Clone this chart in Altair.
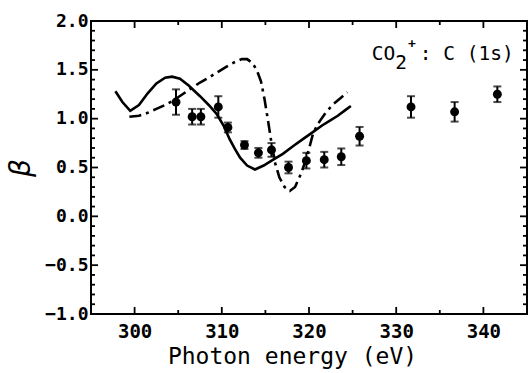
import altair as alt
import pandas as pd

# Experimental points
pt_E = [304.75, 306.6, 307.6, 309.6, 310.7, 312.6, 314.2, 315.7, 317.65, 319.7, 321.75, 323.7, 325.8, 331.7, 336.7, 341.6]
pt_b = [1.17, 1.02, 1.02, 1.12, 0.91, 0.73, 0.65, 0.68, 0.50, 0.57, 0.58, 0.61, 0.82, 1.12, 1.07, 1.25]
pt_err = [0.13, 0.08, 0.08, 0.11, 0.05, 0.04, 0.05, 0.07, 0.06, 0.08, 0.08, 0.085, 0.095, 0.11, 0.10, 0.08]

# Solid theory curve
sol_E = [297.8, 298.6, 299.5, 300.5, 301.5, 302.5, 303.5, 304.3, 305.2, 306.2, 307.5, 308.5, 309.4, 310.2,
         310.9, 311.5, 312.1, 312.9, 313.8, 314.8, 315.9, 317.0, 318.2, 319.3, 320.4, 321.5, 322.4, 323.3, 324.2, 324.8]
sol_b = [1.28, 1.17, 1.08, 1.14, 1.26, 1.36, 1.42, 1.43, 1.41, 1.34, 1.23, 1.14, 1.05, 0.93,
         0.79, 0.69, 0.60, 0.52, 0.48, 0.52, 0.58, 0.64, 0.72, 0.79, 0.86, 0.93, 0.98, 1.03, 1.09, 1.13]

# Dash-dot theory curve
dd_E = [299.4, 300.5, 301.5, 302.5, 303.5, 304.5, 305.5, 306.5, 307.5, 308.5, 309.4, 310.5, 311.5, 312.3,
        312.9, 313.5, 314.0, 314.5, 314.9, 315.3, 315.7, 316.1, 316.6, 317.2, 317.8, 318.4, 319.1, 319.6,
        320.0, 320.5, 321.2, 321.9, 322.8, 323.6, 324.4]
dd_b = [1.02, 1.03, 1.06, 1.10, 1.14, 1.19, 1.25, 1.31, 1.37, 1.42, 1.47, 1.53, 1.58, 1.61,
        1.61, 1.57, 1.50, 1.38, 1.20, 0.98, 0.75, 0.55, 0.40, 0.30, 0.26, 0.30, 0.44, 0.57,
        0.69, 0.86, 0.97, 1.06, 1.15, 1.21, 1.27]

x_major = [300, 310, 320, 330, 340]
x_minor = [305, 315, 325, 335]
y_major = [-1.0, -0.5, 0.0, 0.5, 1.0, 1.5, 2.0]
y_minor = [round(-1.0 + 0.1 * i, 1) for i in range(31) if i % 5 != 0]

# Annotation "CO2+ : C (1s)" split into pieces (main, subscript, superscript, rest)
lab_parts = ["CO", "2", "+", ": C (1s)"]
lab_E = 327.2
lab_b = 1.60

W, H = 436, 293
X0, X1 = 295.0, 345.0
Y0, Y1 = -1.0, 2.0
FONT = "DejaVu Sans Mono"

xs = alt.Scale(domain=[X0, X1], nice=False, zero=False)
ys = alt.Scale(domain=[Y0, Y1], nice=False, zero=False)

pts = pd.DataFrame({"E": pt_E, "b": pt_b, "lo": [b - e for b, e in zip(pt_b, pt_err)],
                    "hi": [b + e for b, e in zip(pt_b, pt_err)]})
sol = pd.DataFrame({"E": sol_E, "b": sol_b})
dd = pd.DataFrame({"E": dd_E, "b": dd_b})

ax_x = alt.Axis(values=x_major, ticks=False, domain=False, grid=False, labelFont=FONT,
                labelFontSize=19, labelFontWeight="bold", labelColor="black", labelPadding=8,
                titleFont=FONT, titleFontSize=23, titleFontWeight="normal", titleColor="black",
                titlePadding=4, titleX=201, titleAlign="center", labelFlush=False)
ax_y = alt.Axis(values=y_major, format=".1f", ticks=False, domain=False, grid=False,
                labelFont=FONT, labelFontSize=18, labelFontWeight="bold", labelColor="black",
                labelPadding=3, titleFont="DejaVu Sans", titleFontSize=28,
                titleFontStyle="italic", titleFontWeight="normal", titleColor="black",
                titlePadding=9, labelFlush=False)

solid = alt.Chart(sol).mark_line(color="black", strokeWidth=2.6).encode(
    x=alt.X("E:Q", scale=xs, title="Photon energy  (eV)", axis=ax_x),
    y=alt.Y("b:Q", scale=ys, title="β", axis=ax_y))
dashdot = alt.Chart(dd).mark_line(color="black", strokeWidth=2.6, strokeDash=[12, 5, 3, 5]).encode(
    x=alt.X("E:Q", scale=xs), y=alt.Y("b:Q", scale=ys))
bars = alt.Chart(pts).mark_rule(color="black", strokeWidth=2).encode(
    x=alt.X("E:Q", scale=xs), y=alt.Y("lo:Q", scale=ys), y2="hi:Q")
caps_lo = alt.Chart(pts).mark_tick(color="black", thickness=2, size=8, orient="horizontal").encode(
    x=alt.X("E:Q", scale=xs), y=alt.Y("lo:Q", scale=ys))
caps_hi = alt.Chart(pts).mark_tick(color="black", thickness=2, size=8, orient="horizontal").encode(
    x=alt.X("E:Q", scale=xs), y=alt.Y("hi:Q", scale=ys))
dots = alt.Chart(pts).mark_point(shape="circle", filled=True, color="black", opacity=1, size=80).encode(
    x=alt.X("E:Q", scale=xs), y=alt.Y("b:Q", scale=ys))

FS = 19.5
CW = 0.602 * FS
lab_df = pd.DataFrame({"E": [lab_E], "b": [lab_b]})


def lab_piece(i, size, dx, dy, weight="normal"):
    return alt.Chart(lab_df).mark_text(
        font=FONT, fontSize=size, fontWeight=weight, align="left", baseline="alphabetic",
        color="black", dx=dx, dy=dy, text=lab_parts[i]).encode(
        x=alt.X("E:Q", scale=xs), y=alt.Y("b:Q", scale=ys))


labs = [lab_piece(0, FS, 0, 0), lab_piece(1, FS, 2 * CW, 9), lab_piece(2, 13, 3 * CW + 1, -12, "bold"),
        lab_piece(3, FS, 48, 0)]

# Inward frame ticks drawn as short stroked symbols (custom path shapes) on all four sides
MAJ_SIZE, MIN_SIZE = 196, 64   # symbol area -> half-side 7 px / 4 px
rows = []
for vals, sz in [(x_major, MAJ_SIZE), (x_minor, MIN_SIZE)]:
    for v in vals:
        rows.append({"tx": float(v), "ty": Y0, "shp": "M0,0V-1", "sz": sz})
        rows.append({"tx": float(v), "ty": Y1, "shp": "M0,0V1", "sz": sz})
for vals, sz in [(y_major, MAJ_SIZE), (y_minor, MIN_SIZE)]:
    for v in vals:
        rows.append({"tx": X0, "ty": float(v), "shp": "M0,0H1", "sz": sz})
        rows.append({"tx": X1, "ty": float(v), "shp": "M0,0H-1", "sz": sz})
tick_df = pd.DataFrame(rows)

ticks = alt.Chart(tick_df).mark_point(filled=False, color="black", strokeWidth=1.8, opacity=1).encode(
    x=alt.X("tx:Q", scale=xs), y=alt.Y("ty:Q", scale=ys),
    shape=alt.Shape("shp:N", scale=None), size=alt.Size("sz:Q", scale=None))

chart = alt.layer(solid, dashdot, bars, caps_lo, caps_hi, dots, *labs, ticks).properties(
    width=W, height=H,
    autosize=alt.AutoSizeParams(type="none"),
    padding={"left": 91, "top": 21, "right": 3, "bottom": 59},
    background="white",
).configure_view(stroke="black", strokeWidth=2)

chart.save("out.html", embed_options={"renderer": "svg", "actions": False})
